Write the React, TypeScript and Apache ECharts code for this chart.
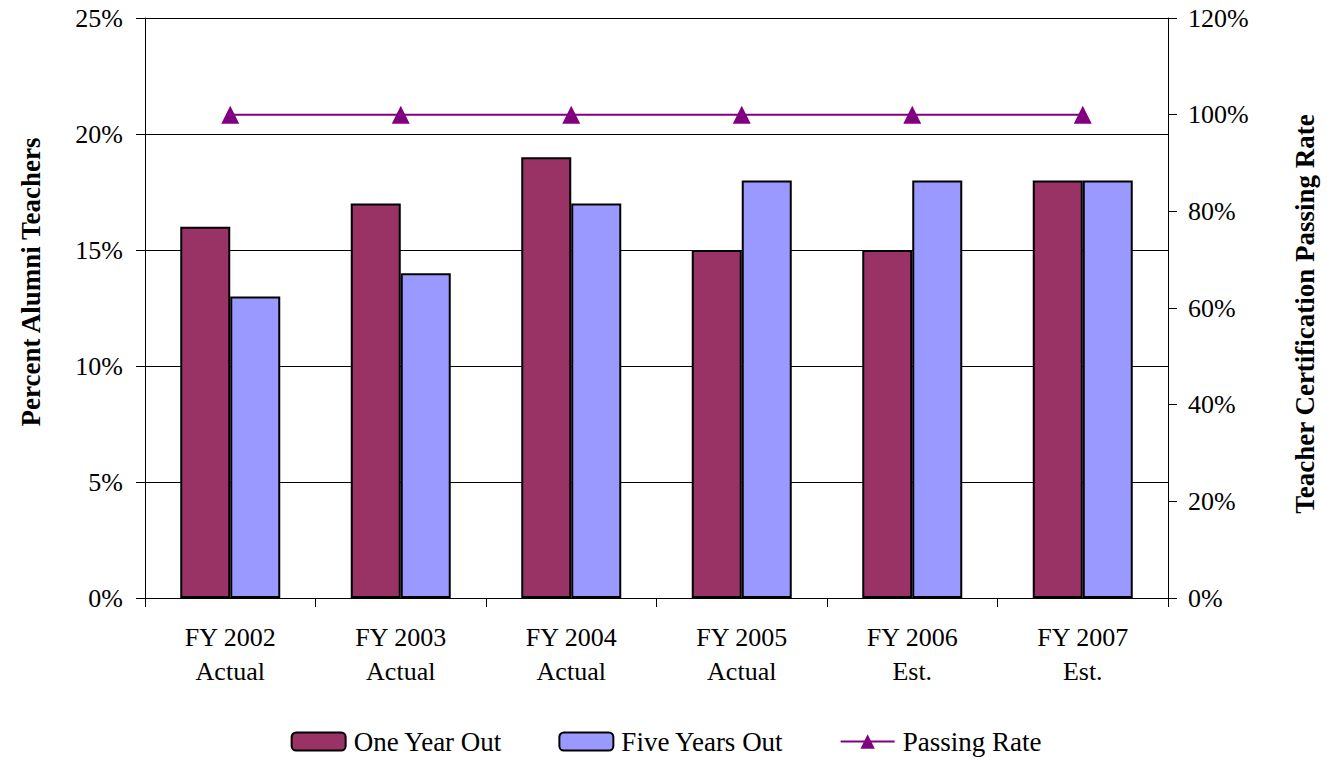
import React, { useEffect, useRef } from "react";
import * as echarts from "echarts";

const categories = ["FY 2002\nActual", "FY 2003\nActual", "FY 2004\nActual", "FY 2005\nActual", "FY 2006\nEst.", "FY 2007\nEst."];
const oneYearOut = [16, 17, 19, 15, 15, 18];
const fiveYearsOut = [13, 14, 17, 18, 18, 18];
const passingRate = [100, 100, 100, 100, 100, 100];

const FONT = "'Liberation Serif', 'Times New Roman', serif";

export default function App() {
  const ref = useRef<HTMLDivElement>(null);
  useEffect(() => {
    if (!ref.current) return;
    const chart = echarts.init(ref.current, null, { renderer: "svg" });
    chart.setOption({
      animation: false,
      backgroundColor: "#fff",
      textStyle: { fontFamily: FONT, color: "#000" },
      grid: { left: 145, right: 164, top: 18, bottom: 163, containLabel: false },
      legend: {
        bottom: 1,
        left: "center",
        itemWidth: 54,
        itemHeight: 18,
        itemGap: 56,
        textStyle: { fontFamily: FONT, fontSize: 27, color: "#000", padding: [0, 0, 0, 3] },
        data: [
          { name: "One Year Out" },
          { name: "Five Years Out" },
          { name: "Passing Rate" },
        ],
      },
      xAxis: {
        type: "category",
        data: categories,
        axisLine: { lineStyle: { color: "#000", width: 1 } },
        axisTick: { show: true, length: 9, lineStyle: { color: "#000" } },
        axisLabel: { fontFamily: FONT, fontSize: 26, color: "#000", margin: 22, lineHeight: 34 },
      },
      yAxis: [
        {
          type: "value",
          min: 0,
          max: 25,
          interval: 5,
          name: "Percent Alumni Teachers",
          nameLocation: "middle",
          nameGap: 101,
          nameRotate: 90,
          nameTextStyle: { fontFamily: FONT, fontSize: 27, fontWeight: "bold", color: "#000", padding: [0, 0, 0, 52] },
          axisLine: { show: true, lineStyle: { color: "#000" } },
          axisTick: { show: true, length: 9, lineStyle: { color: "#000" } },
          axisLabel: { fontFamily: FONT, fontSize: 26, color: "#000", margin: 22, formatter: (v: number) => v + "%" },
          splitLine: { show: true, lineStyle: { color: "#000", width: 1 } },
        },
        {
          type: "value",
          min: 0,
          max: 120,
          interval: 20,
          position: "right",
          name: "Teacher Certification Passing Rate",
          nameLocation: "middle",
          nameGap: 123,
          nameRotate: 90,
          nameTextStyle: { fontFamily: FONT, fontSize: 27, fontWeight: "bold", color: "#000", padding: [0, 12, 0, 0] },
          axisLine: { show: true, lineStyle: { color: "#000" } },
          axisTick: { show: true, length: 9, lineStyle: { color: "#000" } },
          axisLabel: { fontFamily: FONT, fontSize: 26, color: "#000", margin: 20, formatter: (v: number) => v + "%" },
          splitLine: { show: false },
        },
      ],
      series: [
        {
          name: "One Year Out",
          type: "bar",
          yAxisIndex: 0,
          data: oneYearOut,
          barWidth: 50,
          barGap: "0%",
          itemStyle: { color: "#993366", borderColor: "#000", borderWidth: 2 },
        },
        {
          name: "Five Years Out",
          type: "bar",
          yAxisIndex: 0,
          data: fiveYearsOut,
          barWidth: 50,
          barGap: "0%",
          itemStyle: { color: "#9999FF", borderColor: "#000", borderWidth: 2 },
        },
        {
          name: "Passing Rate",
          type: "line",
          yAxisIndex: 1,
          data: passingRate,
          symbol: "triangle",
          symbolSize: 18,
          lineStyle: { color: "#800080", width: 2 },
          itemStyle: { color: "#800080" },
        },
      ],
    });
    return () => chart.dispose();
  }, []);
  return <div ref={ref} style={{ width: 1332, height: 761, position: "absolute", left: 0, top: 0 }} />;
}
